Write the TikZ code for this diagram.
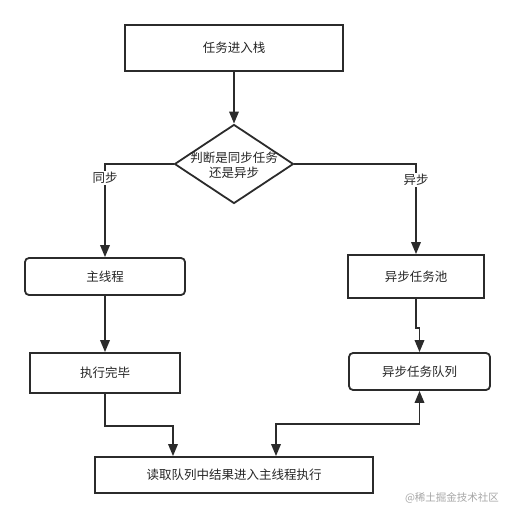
\documentclass[tikz,border=0pt]{standalone}
\usepackage{fontspec}
\setmainfont{Noto Sans CJK SC}
\usetikzlibrary{arrows.meta,shapes.geometric,calc}
\definecolor{ln}{HTML}{2B2B2B}
\begin{document}
\begin{tikzpicture}[x=1pt,y=-1pt,
  every node/.style={font=\fontsize{12.5}{15}\selectfont, text=black!85},
  box/.style={draw=ln, line width=1.8pt, inner sep=0pt, fill=white},
  rbox/.style={box, rounded corners=4pt},
  arr/.style={draw=ln, line width=1.8pt, -{Triangle[length=12pt,width=9.5pt]}},
  arrb/.style={draw=ln, line width=1.8pt, {Triangle[length=12pt,width=9.5pt]}-{Triangle[length=12pt,width=9.5pt]}},
  lbl/.style={fill=white, inner sep=1pt}]
\useasboundingbox (0,0) rectangle (515,518);
\node[box, minimum width=218pt, minimum height=46pt] (a) at (234,48) {任务进入栈};
\node[box, shape=diamond, minimum width=119pt, minimum height=79pt, aspect=1.5] (d) at (234,164) {};
\node[align=center, inner sep=0pt] (dt) at (234,165) {判断是同步任务\\还是异步};
\node[rbox, minimum width=160pt, minimum height=37pt] (m) at (105,276.5) {主线程};
\node[box, minimum width=136pt, minimum height=43pt] (p) at (416,276.5) {异步任务池};
\node[box, minimum width=150pt, minimum height=40pt] (e) at (105,373) {执行完毕};
\node[rbox, minimum width=141pt, minimum height=37pt] (q) at (419.5,371.5) {异步任务队列};
\node[box, minimum width=278pt, minimum height=36pt] (r) at (234,475) {读取队列中结果进入主线程执行};
\draw[arr] (a) -- (d);
\draw[arr] (d.west) -| (m.north);
\draw[arr] (d.east) -| (p.north);
\node[lbl] (l1) at (105,178) {同步};
\node[lbl] (l2) at (416,180) {异步};
\draw[arr] (m) -- (e);
\draw[arr] (p.south) -- ++(0,29) -| (q.north);
\draw[arr] (e.south) -- ++(0,32) -| ([xshift=-61pt]r.north);
\draw[arrb] (q.south) -- ++(0,33) -| ([xshift=42pt]r.north);
\node[text=black!35, font=\fontsize{10.5}{12}\selectfont] (w) at (452,498) {@稀土掘金技术社区};
\end{tikzpicture}
\end{document}
